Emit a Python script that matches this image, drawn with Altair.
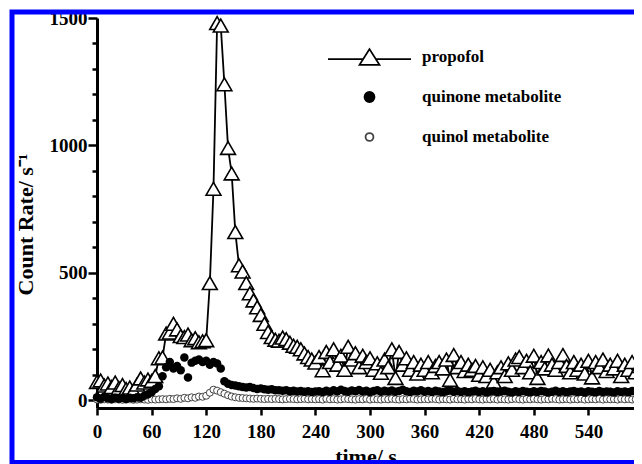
import altair as alt
import pandas as pd

SERIF = "Liberation Serif"

# sampling grid (s)
time_s = list(range(0, 601, 4))

propofol = [
    72, 78, 58, 66, 52, 70, 48, 60, 44, 50, 38, 62, 86, 70, 82, 76,
    95, 165, 168, 262, 266, 300, 278, 252, 248, 258, 236, 244, 228, 232, 236,
    460, 830, 1480, 1470, 1240, 990, 890, 660, 530, 505,
    460, 420, 392, 365, 335, 300, 268, 248, 238, 234,
    246, 240, 226, 214, 210, 200, 184, 170, 160, 148,
    170, 118, 190, 150, 200, 140, 175, 120, 210, 160,
    185, 130, 175, 150, 165, 120, 145, 108, 160, 130,
    200, 88, 190, 140, 165, 120, 150, 105, 140, 120,
    150, 110, 135, 150, 125, 160, 80, 178, 130, 150,
    115, 140, 120, 135, 100, 130, 95, 120, 72, 110,
    130, 95, 145, 120, 160, 170, 130, 155, 110, 175,
    88, 150, 125, 176, 140, 120, 150, 178, 135, 110,
    150, 120, 140, 105, 155, 90, 150, 130, 160, 115,
    140, 125, 155, 95, 140, 120, 150, 110, 135, 125,
]

quinone = [
    12, 6, 14, 8, 5, 10, 6, 9, 5, 10, 8, 12, 10, 18, 24, 32,
    45, 55, 95, 130, 150, 125, 135, 118, 168, 90, 148, 155, 160, 150, 155,
    140, 150, 145, 125, 75, 65, 60, 58, 55, 52,
    50, 52, 48, 45, 47, 44, 42, 44, 40, 40,
    38, 40, 36, 38, 35, 37, 34, 36, 33, 35,
    36, 33, 38, 34, 40, 35, 42, 37, 34, 39,
    36, 41, 35, 38, 33, 37, 40, 34, 38, 35,
    39, 34, 37, 42, 36, 33, 38, 35, 40, 34,
    37, 33, 38, 35, 32, 36, 39, 34, 37, 33,
    36, 32, 35, 38, 33, 36, 31, 35, 37, 33,
    35, 38, 34, 31, 36, 33, 37, 34, 32, 36,
    33, 37, 35, 31, 34, 38, 33, 36, 32, 35,
    37, 33, 35, 31, 36, 34, 32, 37, 33, 35,
    34, 31, 36, 33, 35, 32, 37, 34, 31, 35,
]

quinol = [
    3, 2, 4, 3, 2, 4, 3, 2, 3, 4, 2, 3, 4, 3, 2, 4,
    3, 4, 5, 4, 6, 5, 8, 6, 10, 8, 12, 10, 15, 14, 18,
    30, 42, 38, 32, 26, 20, 15, 12, 10, 9,
    8, 7, 6, 7, 6, 5, 6, 5, 6, 5,
    4, 5, 6, 5, 4, 5, 6, 4, 5, 4,
    5, 3, 6, 4, 5, 3, 4, 6, 5, 4,
    3, 5, 4, 6, 3, 5, 4, 3, 5, 4,
    6, 4, 3, 5, 4, 6, 5, 3, 4, 5,
    4, 6, 5, 3, 5, 4, 3, 6, 4, 5,
    3, 5, 4, 6, 4, 3, 5, 4, 6, 3,
    5, 4, 3, 5, 6, 4, 3, 5, 4, 6,
    4, 3, 5, 4, 6, 5, 3, 4, 5, 3,
    5, 4, 6, 3, 4, 5, 4, 6, 3, 5,
    4, 5, 3, 6, 4, 5, 3, 4, 5, 4,
]

series_names = ["propofol", "quinone metabolite", "quinol metabolite"]
x_ticks = [0, 60, 120, 180, 240, 300, 360, 420, 480, 540, 600]
y_ticks = list(range(0, 1501, 100))

# legend symbols (unit box -1..1)
legend_paths = [
    "M-1,0.05H-0.152M0.152,0.05H1M0,-0.19L0.24,0.19L-0.24,0.19Z",
    "M0.12,0A0.12,0.12,0,1,1,-0.12,0A0.12,0.12,0,1,1,0.12,0Z",
    "M0.095,0A0.095,0.095,0,1,1,-0.095,0A0.095,0.095,0,1,1,0.095,0Z",
]
legend_fills = ["white", "black", "white"]
legend_strokes = ["black", "black", "#444444"]

df = pd.DataFrame({"t": time_s, "propofol": propofol,
                   "quinone metabolite": quinone, "quinol metabolite": quinol})
long = df.melt(id_vars="t", var_name="series", value_name="value")

# the picture is cropped on the right just past 600 s
PLOT_W = 537
X_MAX = 600 * PLOT_W / 546

x_enc = alt.X("t:Q", scale=alt.Scale(domain=[0, X_MAX], nice=False, zero=False),
              axis=alt.Axis(values=x_ticks, title="time/ s", grid=False,
                            tickSize=7, tickWidth=2.5, tickColor="black",
                            domainColor="black", domainWidth=3,
                            labelFont=SERIF, labelFontSize=19, labelFontWeight="bold",
                            labelColor="black", labelPadding=7, labelFlush=False,
                            labelOverlap=False,
                            titleFont=SERIF, titleFontSize=22, titleFontWeight="bold",
                            titleColor="black", titlePadding=5))
y_enc = alt.Y("value:Q", scale=alt.Scale(domain=[-30, 1500], nice=False, zero=False),
              axis=alt.Axis(values=y_ticks, title="Count Rate/ s\u207b\u00b9", grid=False,
                            labelExpr="datum.value % 500 === 0 ? datum.label : ''",
                            format="d",
                            tickSize=alt.condition("datum.value % 500 === 0", alt.value(9), alt.value(5)),
                            tickWidth=2.5, tickColor="black",
                            domainColor="black", domainWidth=3,
                            labelFont=SERIF, labelFontSize=19, labelFontWeight="bold",
                            labelColor="black", labelPadding=1, labelOverlap=False,
                            titleFont=SERIF, titleFontSize=22, titleFontWeight="bold",
                            titleColor="black", titlePadding=12, titleY=206))

base = alt.Chart(long).encode(x=x_enc, y=y_enc)

frame = alt.Chart(pd.DataFrame({"k": [0]})).mark_rect(
    fillOpacity=0, stroke="#0000ff", strokeWidth=5
).encode(x=alt.value(-85), x2=alt.value(700), y=alt.value(-6), y2=alt.value(444.5))

quinol_pts = base.transform_filter("datum.series == 'quinol metabolite'").mark_point(
    shape="circle", fill="white", stroke="#444444", strokeWidth=1, size=49, opacity=1, fillOpacity=1)

prop_line = base.transform_filter("datum.series == 'propofol'").mark_line(
    color="black", strokeWidth=1.8)

prop_pts = base.transform_filter("datum.series == 'propofol'").mark_point(
    shape="triangle-up", fill="white", stroke="black", strokeWidth=1.6, size=220, opacity=1, fillOpacity=1)

quinone_pts = base.transform_filter("datum.series == 'quinone metabolite'").mark_point(
    shape="circle", filled=True, color="black", size=72, opacity=1)

leg = alt.Legend(title=None, orient="none", legendX=230, legendY=29, direction="vertical",
                 symbolSize=6889, symbolStrokeWidth=1.8, symbolOpacity=1,
                 clipHeight=20, rowPadding=20,
                 labelFont=SERIF, labelFontSize=17, labelFontWeight="bold",
                 labelColor="black", labelOffset=10)

legend_layer = base.transform_filter("datum.t < 0").mark_point(
    filled=True, strokeWidth=1.8, opacity=1
).encode(
    shape=alt.Shape("series:N", scale=alt.Scale(domain=series_names, range=legend_paths), legend=leg),
    fill=alt.Fill("series:N", scale=alt.Scale(domain=series_names, range=legend_fills), legend=leg),
    stroke=alt.Stroke("series:N", scale=alt.Scale(domain=series_names, range=legend_strokes), legend=leg),
)

chart = alt.layer(
    frame, quinol_pts, prop_line, prop_pts, quinone_pts, legend_layer
).properties(
    width=PLOT_W, height=390,
    autosize=alt.AutoSizeParams(type="none"),
    padding={"left": 89, "top": 10, "right": 0, "bottom": 56},
    background="white",
).configure_view(strokeWidth=0)

chart.save("out.html", embed_options={"renderer": "svg", "actions": False})
